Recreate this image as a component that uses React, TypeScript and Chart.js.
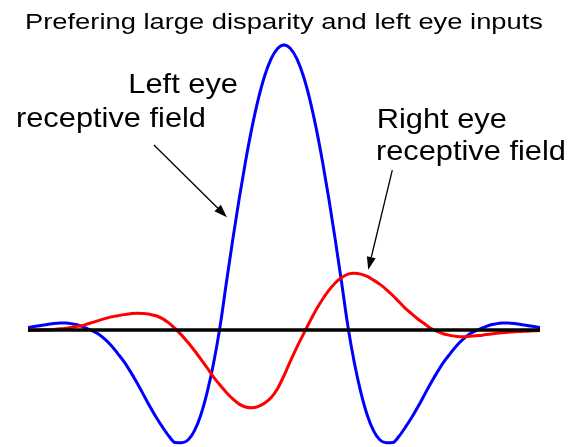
import React, { useEffect, useRef } from "react";
import { Chart, registerables } from "chart.js";

Chart.register(...registerables);

// Sample grid (horizontal position, arbitrary units)
const xStart = -10;
const xStep = 0.25;

// Left eye receptive field (blue)
const leftEye = [
  0.009, 0.012, 0.016, 0.019, 0.023, 0.025, 0.025, 0.021, 0.016, 0.007,
  -0.002, -0.014, -0.032, -0.054, -0.082, -0.111, -0.146, -0.184, -0.225, -0.267,
  -0.305, -0.34, -0.372, -0.395, -0.396, -0.386, -0.354, -0.298, -0.218, -0.116,
  0.011, 0.167, 0.318, 0.461, 0.593, 0.711, 0.812, 0.893, 0.952, 0.988,
  1.0,
  0.988, 0.952, 0.893, 0.812, 0.711, 0.593, 0.461, 0.318, 0.167, 0.011,
  -0.116, -0.218, -0.298, -0.354, -0.386, -0.396, -0.395, -0.372, -0.34, -0.305,
  -0.267, -0.225, -0.184, -0.146, -0.111, -0.082, -0.054, -0.032, -0.014, -0.002,
  0.007, 0.016, 0.021, 0.025, 0.025, 0.023, 0.019, 0.016, 0.012, 0.009,
];

// Right eye receptive field (red)
const rightEye = [
  -0.002, -0.001, 0.0, 0.001, 0.002, 0.004, 0.006, 0.01, 0.014, 0.019,
  0.026, 0.033, 0.04, 0.046, 0.05, 0.054, 0.057, 0.059, 0.058, 0.055,
  0.05, 0.04, 0.025, 0.005, -0.018, -0.044, -0.072, -0.102, -0.133, -0.165,
  -0.193, -0.219, -0.242, -0.26, -0.27, -0.273, -0.268, -0.256, -0.237, -0.205,
  -0.16,
  -0.109, -0.061, -0.016, 0.028, 0.07, 0.107, 0.139, 0.165, 0.184, 0.196,
  0.199, 0.196, 0.188, 0.175, 0.16, 0.142, 0.121, 0.098, 0.075, 0.056,
  0.037, 0.021, 0.005, -0.005, -0.014, -0.019, -0.023, -0.024, -0.022, -0.02,
  -0.018, -0.015, -0.012, -0.01, -0.008, -0.006, -0.005, -0.004, -0.003, -0.002,
];

// Zero line
const baselineX = [-10, 10];
const baselineY = [0, 0];

const titleText = "Prefering large disparity and left eye inputs";
const leftLabel = ["Left eye", "receptive field"];
const rightLabel = ["Right eye", "receptive field"];

const FONT = '"Liberation Sans", Arial, Helvetica, sans-serif';

const annotationPlugin = {
  id: "annotations",
  afterDraw(chart: any) {
    const ctx: CanvasRenderingContext2D = chart.ctx;
    const xs = chart.scales.x;
    const ys = chart.scales.y;
    const px = (v: number) => xs.getPixelForValue(v);
    const py = (v: number) => ys.getPixelForValue(v);

    ctx.save();
    ctx.fillStyle = "#000";
    ctx.textBaseline = "alphabetic";
    ctx.textAlign = "left";

    // Title (stretched horizontally to match reference)
    ctx.font = `22px ${FONT}`;
    const tw = ctx.measureText(titleText).width;
    ctx.save();
    ctx.translate(25, 29);
    ctx.scale(518 / tw, 1);
    ctx.fillText(titleText, 0, 0);
    ctx.restore();

    const label = (text: string, x: number, y: number) => {
      ctx.save();
      ctx.font = `28px ${FONT}`;
      ctx.translate(px(x), py(y));
      ctx.scale(1.1, 1);
      ctx.fillText(text, 0, 0);
      ctx.restore();
    };
    label(leftLabel[0], -6.08, 0.831);
    label(leftLabel[1], -10.47, 0.711);
    label(rightLabel[0], 3.62, 0.709);
    label(rightLabel[1], 3.59, 0.596);

    const arrow = (x0: number, y0: number, x1: number, y1: number) => {
      const ax = px(x0), ay = py(y0), bx = px(x1), by = py(y1);
      const ang = Math.atan2(by - ay, bx - ax);
      const len = 13, hw = 4.5;
      const baseX = bx - len * Math.cos(ang);
      const baseY = by - len * Math.sin(ang);
      ctx.strokeStyle = "#000";
      ctx.lineWidth = 1.3;
      ctx.beginPath();
      ctx.moveTo(ax, ay);
      ctx.lineTo(baseX, baseY);
      ctx.stroke();
      ctx.beginPath();
      ctx.moveTo(bx, by);
      ctx.lineTo(baseX + hw * Math.sin(ang), baseY - hw * Math.cos(ang));
      ctx.lineTo(baseX - hw * Math.sin(ang), baseY + hw * Math.cos(ang));
      ctx.closePath();
      ctx.fill();
    };
    arrow(-5.08, 0.649, -2.23, 0.396);
    arrow(4.23, 0.561, 3.29, 0.211);

    ctx.restore();
  },
};

export default function App() {
  const ref = useRef<HTMLCanvasElement>(null);

  useEffect(() => {
    const canvas = ref.current;
    if (!canvas) return;
    const toPts = (ys: number[]) => ys.map((y, i) => ({ x: xStart + i * xStep, y }));
    const chart = new Chart(canvas, {
      type: "line",
      data: {
        datasets: [
          {
            data: baselineX.map((x, i) => ({ x, y: baselineY[i] })),
            borderColor: "#000",
            borderWidth: 3.5,
            pointRadius: 0,
            clip: false,
          } as any,
          {
            data: toPts(rightEye),
            borderColor: "#ff0000",
            borderWidth: 3,
            pointRadius: 0,
            cubicInterpolationMode: "monotone",
            clip: false,
          } as any,
          {
            data: toPts(leftEye),
            borderColor: "#0000ff",
            borderWidth: 3,
            pointRadius: 0,
            cubicInterpolationMode: "monotone",
            clip: false,
          } as any,
        ],
      },
      options: {
        responsive: false,
        animation: false,
        devicePixelRatio: 1,
        events: [],
        layout: { padding: { left: 28, right: 35, top: 0, bottom: 0 } },
        scales: {
          x: { type: "linear", min: -10, max: 10, display: false },
          y: { type: "linear", min: -0.4105, max: 1.1579, display: false },
        },
        plugins: {
          legend: { display: false },
          tooltip: { enabled: false },
          title: { display: false },
        },
      },
      plugins: [annotationPlugin],
    } as any);
    return () => chart.destroy();
  }, []);

  return (
    <canvas
      ref={ref}
      width={575}
      height={447}
      style={{ position: "fixed", left: 0, top: 0, display: "block", background: "#fff" }}
    />
  );
}
